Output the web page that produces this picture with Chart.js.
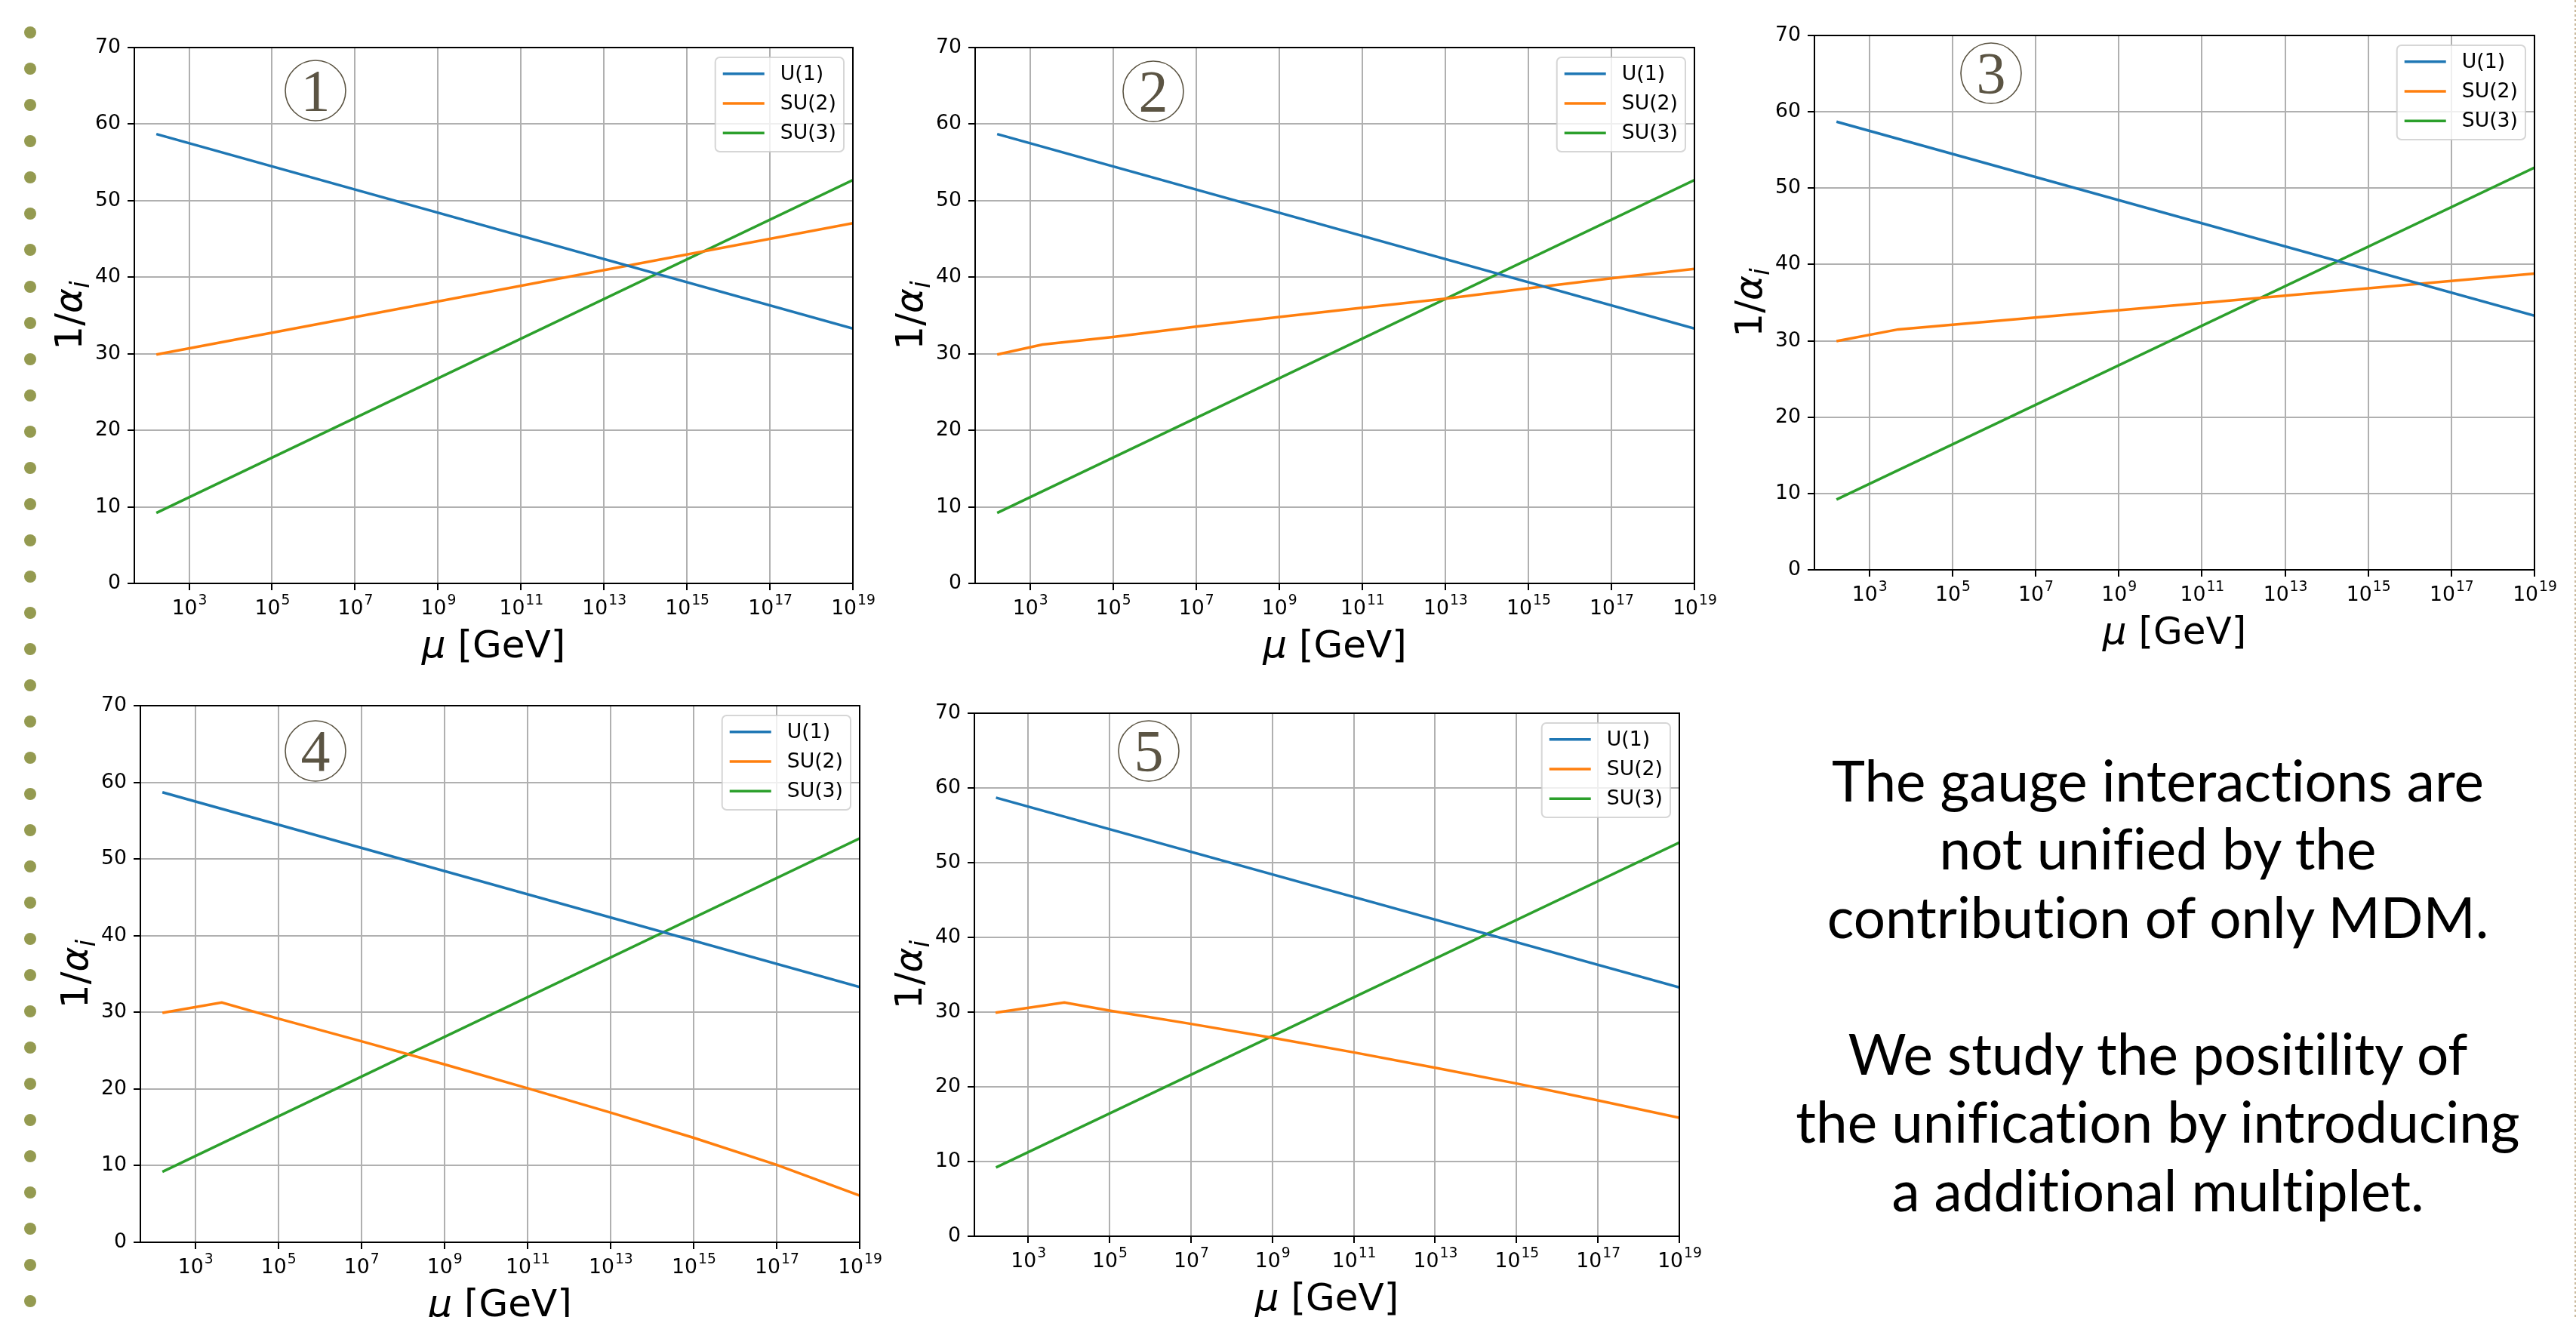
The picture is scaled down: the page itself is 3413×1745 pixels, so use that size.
<!DOCTYPE html>
<html>
<head>
<meta charset="utf-8">
<script src="https://cdn.jsdelivr.net/npm/chart.js@4.4.1/dist/chart.umd.min.js"></script>
<style>
  body { margin: 0; width: 3413px; height: 1745px; background: #fff; position: relative; overflow: hidden; }
  .panel { position: absolute; }
  .dot { position: absolute; left: 32px; width: 16px; height: 16px; border-radius: 50%; background: #949a50; }
  #edge { position: absolute; left: 3408px; top: 0; width: 3px; height: 1745px; border-right: 3px dotted #cbbb9f; }
  #note { position: absolute; left: 2309px; width: 1100px; top: 990px; text-align: center;
          font-family: "Lato", "Open Sans", sans-serif; font-size: 66px; line-height: 90.5px; color: #000;
          font-variant-ligatures: none; font-feature-settings: "liga" 0, "dlig" 0; }
</style>
</head>
<body>
<div id="edge"></div>
<div id="note">The gauge interactions are<br>not unified by the<br>contribution of only MDM.<br><br>We study the positility of<br>the unification by introducing<br>a additional multiplet.</div>

<script>
// series names / colours (matplotlib default cycle)
var seriesNames = ["U(1)", "SU(2)", "SU(3)"];
var seriesColors = ["#1f77b4", "#ff7f0e", "#2ca02c"];

// axis ticks
var xTickExps = [3, 5, 7, 9, 11, 13, 15, 17, 19];
var yTickVals = [0, 10, 20, 30, 40, 50, 60, 70];

// curves: x is log10(mu / GeV), y is 1/alpha_i
var u1Exp = [2.21, 19];
var u1Val = [58.7, 33.3];
var su3Exp = [2.21, 19];
var su3Val = [9.2, 52.7];

var su2Exp1 = [2.21, 19];
var su2Val1 = [29.9, 47.05];
var su2Exp2 = [2.21, 3.3, 5, 7, 9, 11, 13, 15, 17, 19];
var su2Val2 = [29.9, 31.2, 32.2, 33.55, 34.8, 36.0, 37.2, 38.55, 39.85, 41.1];
var su2Exp3 = [2.21, 3.7, 11, 19];
var su2Val3 = [29.95, 31.5, 34.95, 38.8];
var su2Exp4 = [2.21, 3.64, 5, 7, 9, 11, 13, 15, 17, 19];
var su2Val4 = [29.93, 31.28, 29.18, 26.23, 23.21, 20.1, 16.92, 13.64, 10.1, 6.1];
var su2Exp5 = [2.2, 3.89, 5, 7, 9, 11, 13, 15, 17, 19];
var su2Val5 = [29.93, 31.28, 30.2, 28.42, 26.57, 24.61, 22.56, 20.44, 18.18, 15.86];

// where each plot box sits on the page
var panels = [
  { num: 1, left: 178, top: 63, w: 952, h: 710, su2Exp: su2Exp1, su2Val: su2Val1, badge: [240, 57] },
  { num: 2, left: 1292, top: 63, w: 953, h: 710, su2Exp: su2Exp2, su2Val: su2Val2, badge: [236, 58] },
  { num: 3, left: 2404, top: 47, w: 954, h: 708, su2Exp: su2Exp3, su2Val: su2Val3, badge: [234, 50] },
  { num: 4, left: 186, top: 935, w: 953, h: 711, su2Exp: su2Exp4, su2Val: su2Val4, badge: [232, 60] },
  { num: 5, left: 1291, top: 945, w: 934, h: 693, su2Exp: su2Exp5, su2Val: su2Val5, badge: [231, 50] }
];

var PAD_L = 170, PAD_R = 60, PAD_T = 40, PAD_B = 130;
var FONT = '"DejaVu Sans"';

function toPoints(exps, vals) {
  return exps.map(function (e, i) { return { x: Math.pow(10, e), y: vals[i] }; });
}

// slide bullets down the left side
for (var i = 0; i < 36; i++) {
  var d = document.createElement("div");
  d.className = "dot";
  d.style.top = (43.3 + i * 48.03 - 8) + "px";
  document.body.appendChild(d);
}

// 10^n labels, drawn like matplotlib mathtext (smaller raised exponent)
function drawXTickLabels(chart) {
  var sc = chart.scales.x, a = chart.chartArea, ctx = chart.ctx;
  var base = "26.7px " + FONT, small = "18.7px " + FONT;
  ctx.save();
  ctx.fillStyle = "#000";
  ctx.textAlign = "left";
  ctx.textBaseline = "alphabetic";
  xTickExps.forEach(function (e) {
    var px = sc.getPixelForValue(Math.pow(10, e));
    ctx.font = base; var wb = ctx.measureText("10").width;
    ctx.font = small; var ws = ctx.measureText(String(e)).width;
    var x0 = px - (wb + ws) / 2, y = a.bottom + 41;
    ctx.font = base; ctx.fillText("10", x0, y);
    ctx.font = small; ctx.fillText(String(e), x0 + wb + 1, y - 13);
  });
  ctx.restore();
}

function drawAxisLabels(chart) {
  var a = chart.chartArea, ctx = chart.ctx;
  ctx.save();
  ctx.fillStyle = "#000";
  ctx.textBaseline = "alphabetic";
  ctx.textAlign = "left";

  // x label: mu [GeV]
  var fi = "italic 50px " + FONT, fn = "50px " + FONT;
  ctx.font = fi; var w1 = ctx.measureText("\u03bc").width;
  ctx.font = fn; var w2 = ctx.measureText(" [GeV]").width;
  var x = (a.left + a.right) / 2 - (w1 + w2) / 2, y = a.bottom + 98;
  ctx.font = fi; ctx.fillText("\u03bc", x, y);
  ctx.font = fn; ctx.fillText(" [GeV]", x + w1, y);

  // y label: 1/alpha_i
  ctx.translate(a.left - 70, (a.top + a.bottom) / 2);
  ctx.rotate(-Math.PI / 2);
  var fs = "italic 35px " + FONT;
  ctx.font = fn; var p1 = ctx.measureText("1/").width;
  ctx.font = fi; var p2 = ctx.measureText("\u03b1").width;
  ctx.font = fs; var p3 = ctx.measureText("i").width;
  var sx = -(p1 + p2 + p3) / 2;
  ctx.font = fn; ctx.fillText("1/", sx, 0);
  ctx.font = fi; ctx.fillText("\u03b1", sx + p1, 0);
  ctx.font = fs; ctx.fillText("i", sx + p1 + p2, 10);
  ctx.restore();
}

function drawLegendBox(chart) {
  var a = chart.chartArea, ctx = chart.ctx;
  ctx.save();
  ctx.font = "26.7px " + FONT;
  var textW = 0;
  chart.data.datasets.forEach(function (ds) { textW = Math.max(textW, ctx.measureText(ds.label).width); });
  var handle = 55, pad = 10, gap = 21, rowH = 39.3;
  var boxW = pad + handle + gap + textW + pad, boxH = 125;
  var x0 = a.right - 12 - boxW, y0 = a.top + 13;
  ctx.beginPath();
  ctx.roundRect(x0, y0, boxW, boxH, 6);
  ctx.fillStyle = "rgba(255,255,255,0.8)";
  ctx.fill();
  ctx.strokeStyle = "rgba(204,204,204,0.8)";
  ctx.lineWidth = 2;
  ctx.stroke();
  chart.data.datasets.forEach(function (ds, k) {
    var cy = y0 + 21.7 + k * rowH;
    ctx.beginPath();
    ctx.moveTo(x0 + pad, cy);
    ctx.lineTo(x0 + pad + handle, cy);
    ctx.strokeStyle = ds.borderColor;
    ctx.lineWidth = 3.5;
    ctx.stroke();
    ctx.fillStyle = "#000";
    ctx.textBaseline = "middle";
    ctx.fillText(ds.label, x0 + pad + handle + gap, cy + 1);
  });
  ctx.restore();
}

function drawBadge(chart, opts) {
  var a = chart.chartArea, ctx = chart.ctx;
  var cx = a.left + opts.badge[0], cy = a.top + opts.badge[1];
  ctx.save();
  ctx.beginPath();
  ctx.arc(cx, cy, 40, 0, Math.PI * 2);
  ctx.strokeStyle = "#5b5443";
  ctx.lineWidth = 1.6;
  ctx.stroke();
  ctx.fillStyle = "#5b5443";
  ctx.font = '78px "Liberation Serif"';
  ctx.textAlign = "center";
  ctx.textBaseline = "alphabetic";
  ctx.fillText(String(opts.num), cx, cy + 26);
  ctx.restore();
}

var panelDecor = {
  id: "panelDecor",
  afterDatasetsDraw: function (chart) {
    var a = chart.chartArea, ctx = chart.ctx;
    ctx.save();
    ctx.strokeStyle = "#000";
    ctx.lineWidth = 2;
    ctx.strokeRect(a.left, a.top, a.right - a.left, a.bottom - a.top);
    ctx.restore();
  },
  afterDraw: function (chart, args, opts) {
    drawXTickLabels(chart);
    drawAxisLabels(chart);
    drawLegendBox(chart);
    drawBadge(chart, opts);
  }
};

panels.forEach(function (p) {
  var box = document.createElement("div");
  box.className = "panel";
  box.style.left = (p.left - PAD_L) + "px";
  box.style.top = (p.top - PAD_T) + "px";
  var cv = document.createElement("canvas");
  cv.width = p.w + PAD_L + PAD_R;
  cv.height = p.h + PAD_T + PAD_B;
  box.appendChild(cv);
  document.body.appendChild(box);

  var curves = [[u1Exp, u1Val], [p.su2Exp, p.su2Val], [su3Exp, su3Val]];

  new Chart(cv.getContext("2d"), {
    type: "line",
    data: {
      datasets: curves.map(function (c, k) {
        return {
          label: seriesNames[k],
          data: toPoints(c[0], c[1]),
          borderColor: seriesColors[k],
          backgroundColor: seriesColors[k],
          borderWidth: 3.5,
          pointRadius: 0,
          tension: 0,
          fill: false
        };
      })
    },
    options: {
      responsive: false,
      animation: false,
      devicePixelRatio: 1,
      layout: { padding: { left: 0, top: PAD_T, right: PAD_R, bottom: 0 } },
      plugins: {
        legend: { display: false },
        tooltip: { enabled: false },
        panelDecor: { num: p.num, badge: p.badge }
      },
      scales: {
        x: {
          type: "logarithmic",
          bounds: "data",
          min: Math.pow(10, 1.68),
          max: 1e19,
          afterBuildTicks: function (scale) {
            scale.ticks = xTickExps.map(function (e) { return { value: Math.pow(10, e) }; });
          },
          afterFit: function (scale) { scale.height = PAD_B; },
          ticks: { display: false },
          grid: { color: "#b0b0b0", lineWidth: 2, tickColor: "#000", tickWidth: 2, tickLength: 9 },
          border: { color: "#000", width: 2 }
        },
        y: {
          type: "linear",
          min: 0,
          max: 70,
          afterBuildTicks: function (scale) {
            scale.ticks = yTickVals.map(function (v) { return { value: v }; });
          },
          afterFit: function (scale) { scale.width = PAD_L; },
          ticks: {
            padding: 9,
            color: "#000",
            font: { family: "DejaVu Sans", size: 26.7 }
          },
          grid: { color: "#b0b0b0", lineWidth: 2, tickColor: "#000", tickWidth: 2, tickLength: 9 },
          border: { color: "#000", width: 2 }
        }
      }
    },
    plugins: [panelDecor]
  });
});

// fit the slide text to the width it has in the picture
(function () {
  var note = document.getElementById("note");
  var c = document.createElement("canvas").getContext("2d");
  c.font = '66px "Lato"';
  var w = c.measureText("the unification by introducing").width;
  var size = 66 * 961 / w;
  note.style.fontSize = size.toFixed(1) + "px";
  note.style.top = (1062 - (45.25 + 0.387 * size)) + "px";
})();
</script>
</body>
</html>
